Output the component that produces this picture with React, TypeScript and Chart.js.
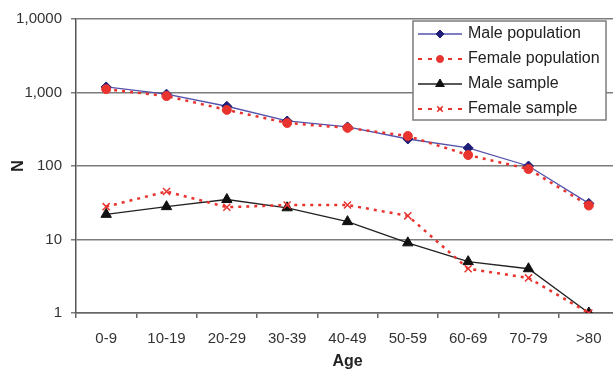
import { useEffect, useRef } from "react";
import { Chart, registerables } from "chart.js";
import { drawPoint } from "chart.js/helpers";

Chart.register(...registerables);

const ageGroups = ["0-9", "10-19", "20-29", "30-39", "40-49", "50-59", "60-69", "70-79", ">80"];
const malePopulation = [1190, 950, 650, 410, 340, 233, 176, 100, 31];
const femalePopulation = [1110, 895, 580, 385, 330, 256, 141, 91, 29];
const maleSample = [22, 28, 35, 27, 17.5, 9, 5, 4, 1];
const femaleSample = [28, 45, 27.5, 29.5, 29.5, 21, 4, 3, 1];
const seriesNames = ["Male population", "Female population", "Male sample", "Female sample"];
const yTickValues = [1, 10, 100, 1000, 10000];
const yTickLabels = ["1", "10", "100", "1,000", "1,0000"];
const xTitle = "Age";
const yTitle = "N";

const FONT = "'Liberation Sans', Arial, Helvetica, sans-serif";

const boxLegend = {
  id: "boxLegend",
  afterDraw(chart: any) {
    const ctx = chart.ctx as CanvasRenderingContext2D;
    const x0 = 413;
    const y0 = 21;
    const w = 193;
    const h = 99;
    ctx.save();
    ctx.fillStyle = "#ffffff";
    ctx.fillRect(x0, y0, w, h);
    ctx.strokeStyle = "#7c7c7c";
    ctx.lineWidth = 1.5;
    ctx.setLineDash([]);
    ctx.strokeRect(x0, y0, w, h);
    chart.data.datasets.forEach((ds: any, i: number) => {
      const y = 34 + i * 25;
      ctx.beginPath();
      ctx.setLineDash(ds.legendDash || []);
      ctx.strokeStyle = ds.borderColor;
      ctx.lineWidth = ds.legendDash ? 2 : ds.borderWidth;
      ctx.moveTo(418, y);
      ctx.lineTo(462, y);
      ctx.stroke();
      ctx.setLineDash([]);
      ctx.fillStyle = ds.pointBackgroundColor;
      ctx.strokeStyle = ds.pointBorderColor;
      ctx.lineWidth = ds.pointBorderWidth;
      drawPoint(
        ctx,
        { pointStyle: ds.pointStyle, rotation: 0, radius: ds.pointRadius - 1, borderWidth: ds.pointBorderWidth },
        440,
        y
      );
      ctx.fillStyle = "#222222";
      ctx.font = `16px ${FONT}`;
      ctx.textAlign = "left";
      ctx.textBaseline = "middle";
      ctx.fillText(ds.label, 468, y);
    });
    ctx.restore();
  },
};

export default function App() {
  const ref = useRef<HTMLCanvasElement>(null);

  useEffect(() => {
    if (!ref.current) return;
    const red = "#e8332f";
    const chart = new Chart(ref.current, {
      type: "line",
      data: {
        labels: ageGroups,
        datasets: [
          {
            label: seriesNames[0],
            data: malePopulation,
            borderColor: "#5252ac",
            borderWidth: 1.3,
            pointStyle: "rectRot",
            pointRadius: 5,
            pointBackgroundColor: "#1e1e78",
            pointBorderColor: "#1e1e78",
            pointBorderWidth: 1,
            order: 4,
          } as any,
          {
            label: seriesNames[1],
            data: femalePopulation,
            borderColor: red,
            borderWidth: 2.5,
            borderDash: [3, 5],
            legendDash: [4, 6],
            pointStyle: "circle",
            pointRadius: 4.5,
            pointBackgroundColor: red,
            pointBorderColor: red,
            pointBorderWidth: 1,
            order: 3,
          },
          {
            label: seriesNames[2],
            data: maleSample,
            borderColor: "#222222",
            borderWidth: 1.3,
            pointStyle: "triangle",
            pointRadius: 6,
            pointBackgroundColor: "#111111",
            pointBorderColor: "#111111",
            pointBorderWidth: 1,
            order: 2,
          },
          {
            label: seriesNames[3],
            data: femaleSample,
            borderColor: red,
            borderWidth: 2.5,
            borderDash: [3, 5],
            legendDash: [4, 6],
            pointStyle: "crossRot",
            pointRadius: 5,
            pointBackgroundColor: red,
            pointBorderColor: red,
            pointBorderWidth: 1.5,
            order: 1,
          },
        ],
      },
      options: {
        responsive: false,
        animation: false,
        devicePixelRatio: 1,
        layout: { padding: { top: 19, right: 3, left: 0, bottom: 0 } },
        plugins: { legend: { display: false }, tooltip: { enabled: false } },
        elements: { line: { tension: 0 } },
        scales: {
          x: {
            type: "category",
            offset: true,
            grid: {
              offset: true,
              drawOnChartArea: false,
              drawTicks: true,
              tickLength: 5,
              color: "#666666",
              lineWidth: 1.5,
            },
            border: { display: true, color: "#666666", width: 1.5 },
            ticks: {
              font: { family: FONT, size: 15 },
              color: "#333333",
              padding: 12,
              maxRotation: 0,
              autoSkip: false,
            },
            title: {
              display: true,
              text: xTitle,
              font: { family: FONT, size: 16, weight: "bold", lineHeight: 1 },
              color: "#222222",
              padding: 0,
            },
            afterFit: (s: any) => {
              s.height = 57;
            },
          },
          y: {
            type: "logarithmic",
            min: 1,
            max: 10000,
            afterBuildTicks: (s: any) => {
              s.ticks = yTickValues.map((v) => ({ value: v }));
            },
            ticks: {
              callback: (v: any) => {
                const i = yTickValues.indexOf(Number(v));
                return i >= 0 ? yTickLabels[i] : "";
              },
              font: { family: FONT, size: 15 },
              color: "#333333",
              padding: 9,
            },
            grid: {
              color: "#7c7c7c",
              lineWidth: 1.5,
              tickLength: 5,
              drawTicks: true,
            },
            border: { display: true, color: "#555555", width: 1.5 },
            title: {
              display: true,
              text: yTitle,
              font: { family: FONT, size: 16, weight: "bold", lineHeight: 1 },
              color: "#222222",
              padding: { top: 11, bottom: 0 },
            },
            afterFit: (s: any) => {
              s.width = 76;
            },
          },
        },
      } as any,
      plugins: [boxLegend],
    });
    return () => chart.destroy();
  }, []);

  return (
    <div
      style={{
        position: "fixed",
        left: 0,
        top: 0,
        width: 613,
        height: 370,
        overflow: "hidden",
        background: "#ffffff",
      }}
    >
      <canvas ref={ref} width={626} height={370} style={{ display: "block", width: 626, height: 370 }} />
    </div>
  );
}
